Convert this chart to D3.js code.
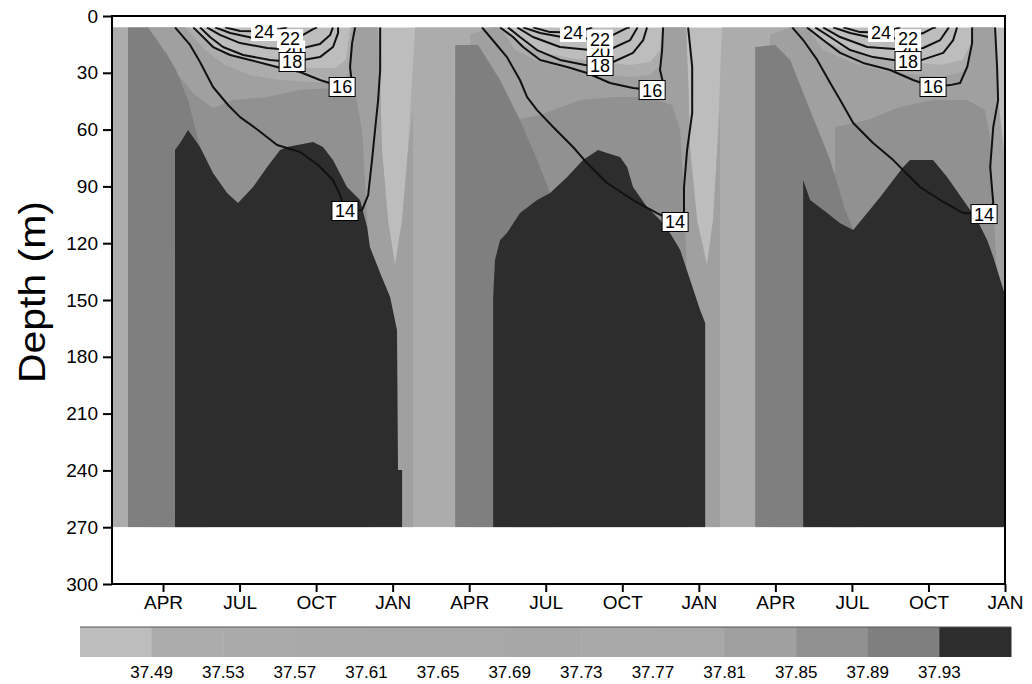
<!DOCTYPE html>
<html>
<head>
<meta charset="utf-8">
<script src="https://cdn.jsdelivr.net/npm/d3@7"></script>
<style>
    body { margin: 0; background: #fff; }
    svg { display: block; font-family: 'Liberation Sans', Arial, sans-serif; }
</style>
</head>
<body>
<svg id="chart" width="1032" height="684"></svg>
<script>
// 軸與色階
const tickMonths = [2, 5, 8, 11, 14, 17, 20, 23, 26, 29, 32, 35]
const tickLabels = ['APR', 'JUL', 'OCT', 'JAN', 'APR', 'JUL', 'OCT', 'JAN', 'APR', 'JUL', 'OCT', 'JAN']
const depthTicks = [0, 30, 60, 90, 120, 150, 180, 210, 240, 270, 300]
const barLevels = [37.49, 37.53, 37.57, 37.61, 37.65, 37.69, 37.73, 37.77, 37.81, 37.85, 37.89, 37.93]
const barColors = ['#bdbdbd', '#acacac', '#aaaaaa', '#a9a9a9', '#a8a8a8', '#a8a8a8', '#a7a7a7',
    '#a9a9a9', '#a8a8a8', '#a0a0a0', '#919191', '#7f7f7f', '#2d2d2d']

// 等鹽線 (月, 深度m): 該鹽度以下的水體上緣
const sal3749 = [
    [[0, 270], [0, 6], [3.06, 6], [3.65, 12.7], [4.43, 19.0], [5.41, 23.2], [6.59, 26.4], [7.76, 27.5],
    [8.74, 27.5], [9.17, 23.2], [9.33, 6], [10.43, 6], [10.51, 33.8], [10.58, 70.8], [10.82, 107.8],
    [11.09, 131.5], [11.37, 107.8], [11.60, 70.8], [11.76, 33.8], [11.88, 6], [15.21, 6], [15.80, 12.7],
    [16.78, 19.0], [17.95, 22.2], [19.13, 24.3], [20.31, 25.9], [21.09, 24.3], [21.48, 18.0], [21.56, 6],
    [22.50, 6], [22.58, 33.8], [22.66, 70.8], [22.93, 107.8], [23.32, 131.5], [23.56, 107.8], [23.72, 70.8],
    [23.83, 33.8], [23.91, 6], [27.24, 6], [27.87, 12.7], [28.93, 19.0], [30.11, 22.2], [31.28, 24.3],
    [32.46, 25.9], [33.32, 23.2], [33.63, 15.3], [33.71, 6], [34.61, 6], [34.73, 44.4], [35, 76.1], [35, 270]]
]
const sal3781 = [
    [[1.41, 270], [1.41, 6], [2.86, 6], [3.65, 18.0], [4.43, 25.9], [5.41, 31.2], [6.59, 33.8], [7.76, 34.9],
    [8.74, 34.9], [9.25, 31.2], [9.41, 6], [10.43, 6], [10.51, 33.8], [10.58, 70.8], [10.82, 107.8],
    [11.09, 131.5], [11.37, 107.8], [11.60, 70.8], [11.80, 49.7], [11.80, 270]],
    [[14.03, 270], [14.03, 10.0], [14.82, 6], [15.21, 6], [15.80, 18.0], [16.78, 24.3], [17.95, 28.5],
    [19.13, 30.6], [20.31, 32.2], [21.09, 31.2], [21.48, 25.9], [21.60, 6], [22.50, 6], [22.58, 33.8],
    [22.66, 70.8], [22.93, 107.8], [23.32, 131.5], [23.56, 107.8], [23.72, 70.8], [23.83, 49.7], [23.83, 270]],
    [[25.79, 270], [25.79, 10.0], [26.58, 6], [27.24, 6], [27.87, 18.0], [28.93, 24.3], [30.11, 28.5],
    [31.28, 30.6], [32.46, 32.2], [33.32, 29.6], [33.63, 23.2], [33.71, 6], [34.61, 6], [34.73, 44.4],
    [35, 76.1], [35, 270]]
]
const sal3785 = [
    [[2.08, 270], [2.08, 18.0], [2.59, 31.2], [3.25, 41.7], [3.96, 48.6], [4.74, 44.4], [6.08, 42.8],
    [7.37, 39.1], [8.66, 38.0], [9.53, 40.1], [9.80, 60.2], [9.96, 97.2], [10.04, 118.3], [10.19, 270]],
    [[15.80, 270], [15.80, 54.9], [16.78, 52.3], [17.29, 49.7], [18.35, 44.4], [19.64, 42.8], [20.97, 42.8],
    [21.95, 47.0], [22.27, 60.2], [22.42, 97.2], [22.50, 123.6], [22.66, 270]],
    [[28.34, 270], [28.34, 58.6], [29.60, 54.9], [30.89, 48.1], [32.18, 44.4], [33.52, 44.4], [34.22, 49.7],
    [34.42, 65.5], [34.54, 97.2], [34.65, 128.9], [34.81, 270]]
]
const sal3789 = [
    [[0.63, 270], [0.63, 6], [1.41, 6], [2.0, 17.3], [2.51, 28.5], [2.98, 44.4], [3.45, 69.2], [3.69, 270]],
    [[13.45, 270], [13.45, 15.3], [14.35, 15.3], [15.21, 33.8], [15.99, 54.9], [16.66, 76.1], [17.17, 93.5],
    [17.40, 270]],
    [[25.21, 270], [25.21, 16.4], [25.99, 15.3], [26.58, 23.2], [27.36, 49.7], [28.15, 76.1], [28.74, 102.5],
    [29.05, 113.0], [29.24, 270]]
]
const sal3793 = [
    [[2.47, 270], [2.47, 70.8], [2.67, 67.1], [2.98, 60.2], [3.45, 69.2], [3.96, 82.9], [4.51, 93.5],
    [4.94, 98.8], [5.53, 90.3], [6.08, 79.8], [6.59, 70.8], [6.86, 69.2], [7.88, 66.6], [8.27, 69.2],
    [8.66, 76.1], [9.21, 90.3], [9.72, 97.2], [10.00, 111.5], [10.11, 122.0], [10.51, 135.8], [10.90, 148.4],
    [11.17, 165.9], [11.21, 239.8], [11.37, 239.8], [11.37, 270]],
    [[14.94, 270], [14.94, 148.4], [15.01, 128.9], [15.21, 118.3], [15.48, 114.6], [15.99, 104.1],
    [16.66, 97.2], [17.17, 93.5], [17.84, 85.0], [18.46, 76.1], [19.05, 70.8], [19.40, 72.4], [19.91, 74.5],
    [20.19, 79.8], [20.42, 90.3], [20.97, 100.9], [21.48, 107.8], [21.87, 114.6], [22.27, 123.6],
    [22.66, 139.5], [23.05, 155.3], [23.25, 162.2], [23.25, 270]],
    [[27.09, 270], [27.09, 86.6], [27.36, 97.2], [28.03, 104.1], [28.54, 109.4], [29.05, 113.0],
    [29.60, 104.1], [30.11, 95.6], [30.62, 86.6], [31.01, 79.8], [31.28, 76.1], [32.18, 76.1], [32.73, 85.0],
    [33.36, 97.2], [33.91, 107.8], [34.30, 118.3], [34.54, 127.3], [35, 147.4], [35, 270]]
]

// 等溫線 (月, 深度m)
const iso14 = [
    [[2.47, 6], [3.06, 15.3], [3.45, 24.3], [3.96, 37.5], [4.55, 47.0], [5.02, 53.4], [5.72, 60.2], [6.47, 68.1],
    [7.37, 71.8], [8.08, 78.7], [8.66, 86.6], [8.94, 94.6], [9.13, 103.0], [9.80, 102.5], [10.04, 94.6],
    [10.19, 76.1], [10.31, 60.2], [10.43, 44.4], [10.51, 28.5], [10.51, 6]],
    [[14.50, 6], [14.82, 11.1], [15.48, 21.7], [15.99, 33.8], [16.27, 42.8], [16.66, 49.7], [17.29, 58.6],
    [18.07, 69.2], [18.62, 77.7], [19.40, 88.2], [20.42, 97.2], [21.36, 104.1], [22.07, 108.8], [22.42, 103.5],
    [22.42, 90.3], [22.54, 70.8], [22.74, 51.2], [22.74, 26.9], [22.58, 6]],
    [[26.66, 6], [27.09, 12.7], [27.64, 23.2], [28.15, 35.4], [28.54, 44.4], [29.05, 56.5], [29.83, 67.1],
    [30.62, 76.1], [31.67, 90.3], [32.46, 97.2], [33.36, 104.1], [34.18, 104.6], [34.54, 98.8], [34.42, 79.8],
    [34.54, 58.6], [34.73, 44.4], [34.69, 26.9], [34.61, 6]]
]
const iso16 = [
    [[3.18, 6], [3.57, 11.1], [3.96, 16.4], [4.63, 20.6], [5.41, 23.2], [6.47, 26.9], [7.37, 29.6], [8.15, 33.8],
    [9.02, 37.5], [9.41, 36.5], [9.33, 26.9], [9.41, 14.3], [9.53, 6]],
    [[15.21, 6], [15.72, 11.1], [16.11, 16.4], [16.78, 23.2], [17.84, 26.9], [18.62, 30.1], [19.52, 35.4],
    [20.42, 38.0], [21.17, 39.1], [21.60, 35.4], [21.48, 28.5], [21.56, 18.0], [21.60, 6]],
    [[27.24, 6], [27.87, 12.7], [28.54, 19.5], [29.44, 24.8], [30.50, 28.5], [31.40, 33.8], [32.18, 37.5],
    [32.85, 36.5], [33.24, 35.4], [33.52, 26.9], [33.71, 14.3], [33.71, 6]]
]
const iso18 = [
    [[3.45, 6], [3.84, 11.1], [4.35, 16.4], [5.14, 20.6], [6.19, 23.2], [7.06, 24.3], [7.49, 23.2], [8.15, 21.7],
    [8.66, 16.4], [8.86, 9.0], [8.86, 6]],
    [[15.52, 6], [15.99, 11.1], [16.66, 18.0], [17.56, 23.2], [18.54, 25.9], [19.13, 26.4], [19.64, 24.3],
    [20.42, 19.5], [20.82, 12.7], [20.97, 6]],
    [[27.56, 6], [28.15, 11.1], [28.93, 18.0], [29.83, 21.7], [30.62, 23.2], [31.20, 23.8], [31.75, 23.2],
    [32.58, 19.5], [32.97, 12.7], [33.12, 6]]
]
const iso20 = [
    [[3.72, 6], [4.23, 10.0], [5.02, 14.3], [6.08, 16.9], [7.06, 18.0], [7.49, 16.9], [8.15, 14.8], [8.55, 10.0], [8.66, 6]],
    [[15.88, 6], [16.50, 11.1], [17.56, 16.4], [19.13, 18.5], [19.64, 16.9], [20.31, 12.7], [20.60, 6]],
    [[27.87, 6], [28.54, 11.1], [29.60, 16.4], [31.20, 18.0], [31.79, 16.9], [32.46, 12.7], [32.80, 6]]
]
const iso22 = [
    [[4.04, 6], [4.63, 9.0], [5.53, 11.6], [6.98, 12.0], [7.49, 10.0], [7.88, 6.9], [8.04, 6]],
    [[16.11, 6], [16.78, 9.0], [17.84, 11.6], [19.13, 12.2], [19.64, 10.0], [20.19, 6.3], [20.30, 6]],
    [[28.26, 6], [28.93, 9.0], [29.83, 11.6], [31.20, 12.0], [31.79, 9.0], [32.18, 6.3], [32.30, 6]]
]
const iso24 = [
    [[4.43, 6], [5.02, 7.9], [5.96, 8.2], [6.59, 6.9], [6.86, 6]],
    [[16.50, 6], [17.17, 8.5], [18.07, 8.7], [18.66, 6.9], [18.82, 6]],
    [[28.66, 6], [29.32, 8.5], [30.14, 8.7], [30.69, 6.9], [30.89, 6]]
]

// 畫布
const svg = d3.select('#chart')
const x = d3.scaleLinear().domain([0, 35]).range([112, 1005])
const y = d3.scaleLinear().domain([0, 300]).range([16, 584])
const color = d3.scaleThreshold().domain(barLevels).range(barColors)

svg.append('defs').append('clipPath').attr('id', 'field-clip')
    .append('rect')
    .attr('x', x(0)).attr('y', y(6))
    .attr('width', x(35) - x(0)).attr('height', y(270) - y(6))

const field = svg.append('g').attr('clip-path', 'url(#field-clip)')
field.append('rect')
    .attr('x', x(0)).attr('y', y(6))
    .attr('width', x(35) - x(0)).attr('height', y(270) - y(6))
    .attr('fill', color(37.45))

const poly = d3.line().x(d => x(d[0])).y(d => y(d[1]))
const isohalines = [[37.49, sal3749], [37.81, sal3781], [37.85, sal3785], [37.89, sal3789], [37.93, sal3793]]
isohalines.forEach(([level, segs]) => {
    field.append('g').selectAll('path').data(segs).join('path')
        .attr('d', d => poly(d) + 'Z')
        .attr('fill', color(level))
})

// 等溫線
const isotherms = [[14, iso14], [16, iso16], [18, iso18], [20, iso20], [22, iso22], [24, iso24]]
isotherms.forEach(([temp, segs]) => {
    field.append('g').selectAll('path').data(segs).join('path')
        .attr('d', poly)
        .attr('fill', 'none')
        .attr('stroke', '#111')
        .attr('stroke-width', 2)
        .attr('stroke-linejoin', 'round')
})

// 等溫線標籤 (放在最深處)
const labelOrder = [20, 22, 24, 18, 16, 14]
const boxed = [14, 16, 18]
const labels = svg.append('g')
labelOrder.forEach(temp => {
    const segs = isotherms.find(d => d[0] === temp)[1]
    segs.forEach(seg => {
        const p = d3.greatest(seg, d => d[1])
        const g = labels.append('g').attr('transform', `translate(${x(p[0])},${y(p[1])})`)
        const box = g.append('rect').attr('fill', '#fff')
        const t = g.append('text').text(temp)
            .attr('text-anchor', 'middle').attr('dy', '0.36em')
            .style('font-size', '18px').style('fill', '#000')
        const w = t.node().getComputedTextLength() + 6
        box.attr('x', -w / 2).attr('y', -9.5).attr('width', w).attr('height', 19)
            .attr('stroke', boxed.includes(temp) ? '#000' : 'none').attr('stroke-width', 1)
    })
})

// 外框與座標軸
svg.append('rect')
    .attr('x', x(0)).attr('y', y(0))
    .attr('width', x(35) - x(0)).attr('height', y(300) - y(0))
    .attr('fill', 'none').attr('stroke', '#000').attr('stroke-width', 2)

const yAxis = d3.axisLeft(y).tickValues(depthTicks).tickSize(9).tickPadding(5)
const yAxisDraw = svg.append('g').attr('transform', `translate(${x(0)},0)`).call(yAxis)
const xAxis = d3.axisBottom(x).tickValues(tickMonths).tickFormat((d, i) => tickLabels[i]).tickSize(8).tickPadding(4)
const xAxisDraw = svg.append('g').attr('transform', `translate(0,${y(300)})`).call(xAxis)

;[yAxisDraw, xAxisDraw].forEach(a => {
    a.select('.domain').remove()
    a.selectAll('line').attr('stroke', '#000').attr('stroke-width', 2)
    a.selectAll('text').style('font-size', '19px').style('fill', '#000')
        .style('font-family', "'Liberation Sans', Arial, sans-serif")
})

svg.append('text')
    .attr('transform', `translate(32,292) rotate(-90)`)
    .attr('text-anchor', 'middle').attr('dominant-baseline', 'central')
    .attr('textLength', 182).attr('lengthAdjust', 'spacingAndGlyphs')
    .style('font-size', '37px').style('fill', '#000')
    .text('Depth (m)')

// 色階圖例
const bx = d3.scaleLinear().domain([0, barColors.length]).range([80, 1011])
const legend = svg.append('g')
legend.selectAll('rect').data(barColors).join('rect')
    .attr('x', (d, i) => bx(i)).attr('y', 627)
    .attr('width', (d, i) => bx(i + 1) - bx(i) + 0.5).attr('height', 30)
    .attr('fill', d => d)
legend.append('line')
    .attr('x1', bx(0)).attr('x2', bx(barColors.length)).attr('y1', 627).attr('y2', 627)
    .attr('stroke', '#555').attr('stroke-width', 1)
legend.selectAll('text').data(barLevels).join('text')
    .attr('x', (d, i) => bx(i + 1)).attr('y', 678)
    .attr('text-anchor', 'middle')
    .style('font-size', '17px').style('fill', '#000')
    .text(d => d.toFixed(2))
</script>
</body>
</html>
